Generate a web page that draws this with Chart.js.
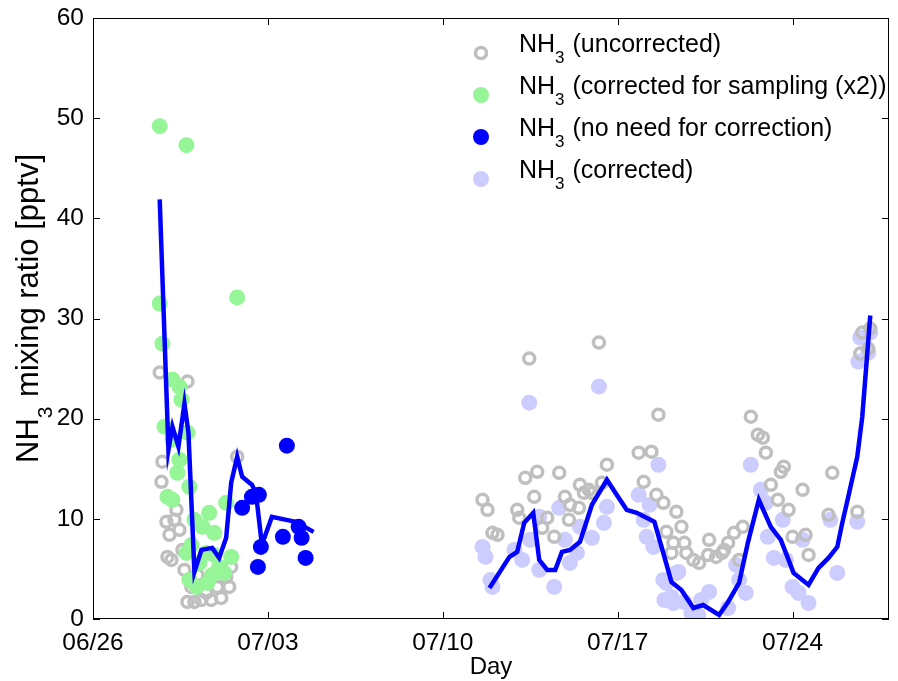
<!DOCTYPE html>
<html>
<head>
<meta charset="utf-8">
<script src="https://cdn.jsdelivr.net/npm/chart.js@4.4.1/dist/chart.umd.min.js"></script>
<style>
  body { margin: 0; background: #fff; }
</style>
</head>
<body>
<canvas id="nh3Chart" width="898" height="681"></canvas>
<script>
// days since 06/26, values in pptv
const xTickDays = [0, 7, 14, 21, 28];
const xTickLabels = ['06/26', '07/03', '07/10', '07/17', '07/24'];
const yTicks = [0, 10, 20, 30, 40, 50, 60];

// NH3 uncorrected (grey open circles)
const uncorrDay = [2.67, 3.78, 2.78, 2.74, 2.94, 3.06, 2.98, 3.34, 3.46, 3.58, 3.94, 4.06, 4.53, 4.97, 5.45, 5.53, 5.33, 3.78, 4.34, 5.77,
  3.26, 3.66, 4.73, 5.13, 4.18, 3.14,
  15.59, 15.79, 15.99, 16.19, 17.30, 17.78, 18.66, 17.66, 16.98, 17.06, 18.18, 17.98, 18.46, 18.89, 19.09, 19.05, 19.49, 19.65, 19.85, 19.45, 19.97, 20.37, 20.57,
  17.46, 20.25, 21.84, 22.35, 22.63, 22.04, 22.55, 22.83, 23.35, 23.55, 22.95, 23.23, 23.67, 23.15, 23.75, 24.03, 24.26, 24.66, 24.62, 24.94, 25.26,
  25.18, 25.42, 25.66, 26.01, 25.86, 26.33, 26.61, 26.81, 26.93, 27.53, 27.65, 27.13, 27.41, 27.84, 28.40, 28.00, 28.52, 28.64, 29.44, 29.59, 30.59,
  30.79, 31.11, 30.71, 31.03];
const uncorrVal = [24.6, 23.7, 15.7, 13.7, 9.7, 8.4, 6.2, 10.9, 8.9, 6.9, 3.2, 1.7, 2.6, 3.2, 3.2, 5.2, 4.2, 1.7, 1.9, 16.2,
  9.9, 4.9, 1.9, 2.1, 4.4, 5.9,
  11.9, 10.9, 8.6, 8.4, 14.1, 14.7, 14.6, 12.2, 10.9, 10.1, 10.1, 9.1, 8.2, 12.2, 11.4, 9.9, 13.4, 12.6, 12.9, 11.1, 12.6, 13.6, 15.4,
  26.0, 27.6, 16.6, 16.7, 20.4, 13.7, 12.4, 11.6, 10.7, 9.2, 8.7, 7.6, 7.6, 6.6, 6.6, 5.9, 5.6, 7.9, 6.4, 6.2, 6.9,
  6.6, 7.6, 8.6, 9.2, 5.9, 20.2, 18.4, 18.1, 16.6, 14.7, 15.2, 13.4, 11.9, 10.9, 12.9, 8.2, 8.4, 6.4, 10.4, 14.6, 10.7,
  28.6, 29.0, 26.5, 27.0];

// NH3 corrected for sampling (x2) (light green)
const samplingDay = [2.67, 3.74, 2.67, 2.78, 5.77, 3.18, 3.46, 3.54, 2.86, 3.18, 3.78, 3.38, 3.86, 2.98, 3.18, 5.33, 4.65, 4.85, 4.38, 5.53,
  5.05, 4.53, 4.26, 3.86, 4.14, 3.74, 3.94, 4.57, 5.25, 3.46, 4.85, 4.06, 4.77];
const samplingVal = [49.2, 47.3, 31.5, 27.5, 32.1, 23.9, 23.2, 21.9, 19.2, 17.9, 18.6, 14.6, 13.2, 12.2, 11.9, 11.6, 10.6, 8.6, 9.2, 6.2,
  5.2, 6.6, 5.6, 3.9, 3.2, 6.6, 7.4, 3.6, 4.6, 15.9, 6.4, 9.9, 4.4];

// NH3 no need for correction (blue)
const noCorrDay = [7.76, 6.64, 6.36, 5.97, 6.72, 6.60, 7.60, 8.23, 8.35, 8.51];
const noCorrVal = [17.3, 12.4, 12.2, 11.1, 7.2, 5.2, 8.2, 9.2, 8.1, 6.1];

// NH3 corrected (lavender)
const correctedDay = [17.46, 20.25, 15.59, 15.71, 15.91, 15.99, 16.87, 17.18, 17.50, 17.86, 17.86, 18.46, 18.66, 18.89, 19.09, 19.37, 19.49, 19.97, 20.45, 20.57,
  21.84, 22.28, 22.63, 22.04, 22.16, 22.43, 22.83, 22.87, 23.43, 23.15, 23.67, 24.34, 24.66, 23.35, 22.95, 23.23, 23.95, 24.22,
  25.42, 25.74, 25.86, 26.13, 26.33, 26.73, 26.93, 27.01, 27.25, 27.61, 27.73, 28.00, 28.24, 28.40, 28.64, 29.51, 29.79, 30.59,
  30.71, 31.11, 30.63, 31.03];
const correctedVal = [21.6, 23.2, 7.2, 6.2, 3.9, 3.2, 6.9, 5.9, 7.9, 10.2, 4.9, 3.2, 11.1, 7.9, 5.6, 6.6, 9.2, 8.1, 9.6, 11.2,
  12.4, 11.4, 15.4, 9.9, 8.2, 7.2, 3.9, 1.9, 4.7, 2.2, 1.7, 1.9, 2.7, 4.6, 3.6, 1.6, 0.6, 0.4,
  1.1, 5.4, 3.9, 2.6, 15.4, 12.9, 11.6, 8.2, 6.1, 9.9, 5.9, 3.2, 2.6, 7.9, 1.6, 9.9, 4.6, 9.7,
  28.1, 28.6, 25.7, 26.6];

// running mean line (two pieces, gap in between)
const meanDay = [2.67, 3.02, 3.18, 3.42, 3.66, 3.82, 4.06, 4.34, 4.77, 5.05, 5.33, 5.53, 5.77, 5.97, 6.36, 6.52, 6.76, 7.16, 8.11, 8.83,
  null,
  15.87, 16.67, 16.98, 17.26, 17.62, 17.86, 18.18, 18.50, 18.77, 19.09, 19.49, 19.97, 20.57, 20.96, 21.36, 21.76, 22.47, 22.87, 23.15,
  23.55, 24.03, 24.42, 25.06, 25.42, 25.86, 26.21, 26.65, 27.13, 27.53, 28.04, 28.64, 29.04, 29.44, 29.79, 29.99, 30.23, 30.59, 30.79, 31.11];
const meanVal = [41.9, 16.9, 19.2, 17.2, 21.5, 18.6, 4.7, 6.9, 7.1, 6.1, 8.1, 13.6, 16.2, 14.2, 13.4, 12.6, 7.4, 10.2, 9.7, 8.7,
  null,
  3.1, 6.2, 6.7, 9.6, 10.6, 5.9, 4.9, 4.9, 6.7, 6.9, 7.7, 11.4, 13.9, 12.4, 10.9, 10.6, 9.7, 6.2, 3.7,
  2.9, 1.1, 1.4, 0.4, 1.7, 3.6, 7.6, 11.9, 9.2, 7.9, 4.6, 3.4, 5.1, 6.1, 7.2, 9.6, 12.2, 16.2, 20.2, 30.3];

const legendLabels = [' (uncorrected)', ' (corrected for sampling (x2))', ' (no need for correction)', ' (corrected)'];

const GREY = 'rgb(191,191,191)';
const GREEN = 'rgb(150,245,150)';
const BLUE = 'rgb(0,0,255)';
const LAVENDER = 'rgb(204,204,255)';
const FONT = '"Liberation Sans", Arial, sans-serif';

function toPoints(xs, ys) {
  return xs.map((x, i) => (x === null ? { x: NaN, y: NaN } : { x: x, y: ys[i] }));
}

// "NH" + subscript 3 + rest
function drawNH3(ctx, rest, x, y, size) {
  ctx.textAlign = 'left';
  ctx.textBaseline = 'alphabetic';
  ctx.font = size + 'px ' + FONT;
  ctx.fillText('NH', x, y);
  let w = ctx.measureText('NH').width;
  ctx.font = Math.round(size * 0.68) + 'px ' + FONT;
  ctx.fillText('3', x + w, y + size * 0.45);
  w += ctx.measureText('3').width + 1;
  ctx.font = size + 'px ' + FONT;
  ctx.fillText(rest, x + w, y);
}

function textWidthNH3(ctx, rest, size) {
  ctx.font = size + 'px ' + FONT;
  let w = ctx.measureText('NH').width + ctx.measureText(rest).width;
  ctx.font = Math.round(size * 0.68) + 'px ' + FONT;
  return w + ctx.measureText('3').width + 1;
}

const matlabFrame = {
  id: 'matlabFrame',
  afterDraw(chart) {
    const ctx = chart.ctx;
    const a = chart.chartArea;
    const xs = chart.scales.x;
    const ys = chart.scales.y;
    const tick = 7;
    ctx.save();
    ctx.strokeStyle = '#000';
    ctx.lineWidth = 1;
    ctx.strokeRect(a.left + 0.5, a.top + 0.5, a.right - a.left - 1, a.bottom - a.top - 1);
    ctx.beginPath();
    xs.ticks.forEach(t => {
      const px = Math.round(xs.getPixelForValue(t.value)) + 0.5;
      ctx.moveTo(px, a.bottom); ctx.lineTo(px, a.bottom - tick);
      ctx.moveTo(px, a.top); ctx.lineTo(px, a.top + tick);
    });
    ys.ticks.forEach(t => {
      const py = Math.round(ys.getPixelForValue(t.value)) + 0.5;
      ctx.moveTo(a.left, py); ctx.lineTo(a.left + tick, py);
      ctx.moveTo(a.right, py); ctx.lineTo(a.right - tick, py);
    });
    ctx.stroke();

    ctx.fillStyle = '#000';
    // x title
    ctx.font = '24px ' + FONT;
    ctx.textAlign = 'center';
    ctx.textBaseline = 'alphabetic';
    ctx.fillText('Day', (a.left + a.right) / 2, 674);

    // y title, rotated
    const yRest = ' mixing ratio [pptv]';
    ctx.save();
    ctx.translate(38, (a.top + a.bottom) / 2 - 10);
    ctx.rotate(-Math.PI / 2);
    const tw = textWidthNH3(ctx, yRest, 31);
    drawNH3(ctx, yRest, -tw / 2, 0, 31);
    ctx.restore();

    // legend
    const styles = [
      { fill: null, stroke: GREY },
      { fill: GREEN },
      { fill: BLUE },
      { fill: LAVENDER }
    ];
    legendLabels.forEach((lab, i) => {
      const cy = 53 + i * 42;
      const s = styles[i];
      ctx.beginPath();
      if (s.fill) {
        ctx.arc(481, cy, 8, 0, Math.PI * 2);
        ctx.fillStyle = s.fill;
        ctx.fill();
      } else {
        ctx.arc(481, cy, 5.5, 0, Math.PI * 2);
        ctx.lineWidth = 3.5;
        ctx.strokeStyle = s.stroke;
        ctx.stroke();
      }
      ctx.fillStyle = '#000';
      drawNH3(ctx, lab, 519, cy - 1, 25);
    });
    ctx.restore();
  }
};

Chart.defaults.font.family = FONT;
Chart.defaults.font.size = 24.5;
Chart.defaults.color = '#000';

const ctx = document.getElementById('nh3Chart').getContext('2d');
const nh3Chart = new Chart(ctx, {
  type: 'scatter',
  data: {
    datasets: [
      {
        label: 'mean',
        type: 'line',
        data: toPoints(meanDay, meanVal),
        borderColor: BLUE,
        borderWidth: 4.5,
        pointRadius: 0,
        tension: 0,
        spanGaps: false,
        order: 0
      },
      {
        label: 'NH3' + legendLabels[2],
        data: toPoints(noCorrDay, noCorrVal),
        backgroundColor: BLUE,
        borderWidth: 0,
        pointRadius: 8,
        order: 1
      },
      {
        label: 'NH3' + legendLabels[1],
        data: toPoints(samplingDay, samplingVal),
        backgroundColor: GREEN,
        borderWidth: 0,
        pointRadius: 8,
        order: 2
      },
      {
        label: 'NH3' + legendLabels[0],
        data: toPoints(uncorrDay, uncorrVal),
        backgroundColor: 'rgba(0,0,0,0)',
        borderColor: GREY,
        borderWidth: 3.5,
        pointRadius: 5.5,
        order: 3
      },
      {
        label: 'NH3' + legendLabels[3],
        data: toPoints(correctedDay, correctedVal),
        backgroundColor: LAVENDER,
        borderWidth: 0,
        pointRadius: 8,
        order: 4
      }
    ]
  },
  options: {
    responsive: false,
    animation: false,
    layout: { padding: { left: 0, top: 18, right: 4, bottom: 0 } },
    scales: {
      x: {
        type: 'linear',
        min: 0,
        max: 31.86,
        afterFit: s => { s.height = 62; },
        afterBuildTicks: s => { s.ticks = xTickDays.map(v => ({ value: v })); },
        grid: { display: false },
        border: { display: false },
        ticks: {
          padding: 2,
          maxRotation: 0,
          autoSkip: false,
          callback: v => xTickLabels[xTickDays.indexOf(v)]
        }
      },
      y: {
        min: 0,
        max: 60,
        afterFit: s => { s.width = 93; },
        afterBuildTicks: s => { s.ticks = yTicks.map(v => ({ value: v })); },
        grid: { display: false },
        border: { display: false },
        ticks: { padding: 1 }
      }
    },
    plugins: {
      legend: { display: false },
      tooltip: { enabled: false }
    }
  },
  plugins: [matlabFrame]
});
</script>
</body>
</html>
